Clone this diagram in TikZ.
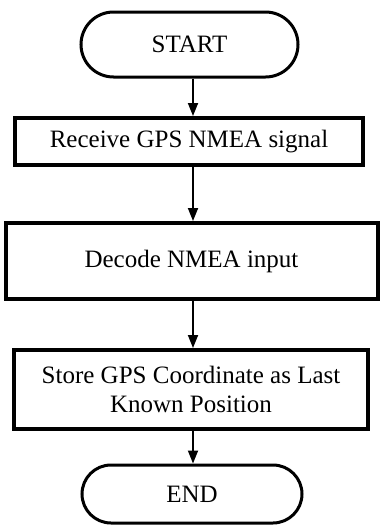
\documentclass[tikz,border=0pt]{standalone}
\usepackage{fontspec}
\setmainfont{Liberation Serif}
\usetikzlibrary{shapes.misc,arrows.meta}
\begin{document}
\begin{tikzpicture}[x=1pt,y=-1pt,
  term/.style={draw,line width=3pt,rounded rectangle,inner sep=0pt,font=\fontsize{25}{29}\selectfont},
  proc/.style={draw,line width=4pt,rectangle,inner sep=0pt,align=center,font=\fontsize{25}{29}\selectfont},
  arr/.style={line width=1.8pt,-{Triangle[length=13pt,width=10pt]}}]
\useasboundingbox (0,0) rectangle (380,525);
\node[term,minimum width=217pt,minimum height=65pt] (start) at (189.5,44.5) {START};
\node[proc,minimum width=348pt,minimum height=47pt] (b1) at (189,141.5) {Receive GPS NMEA signal};
\node[proc,minimum width=372pt,minimum height=76pt] (b2) at (191.5,261) {Decode NMEA input};
\node[proc,minimum width=354pt,minimum height=79pt] (b3) at (191,389.5) {Store GPS Coordinate as Last\\Known Position};
\node[term,minimum width=220pt,minimum height=58pt] (end) at (192,494) {END};
\coordinate (ax) at (193,0);
\draw[arr] (start.south -| ax) -- (b1.north -| ax);
\draw[arr] (b1.south -| ax) -- (b2.north -| ax);
\draw[arr] (b2.south -| ax) -- (b3.north -| ax);
\draw[arr] (b3.south -| ax) -- (end.north -| ax);
\end{tikzpicture}
\end{document}
